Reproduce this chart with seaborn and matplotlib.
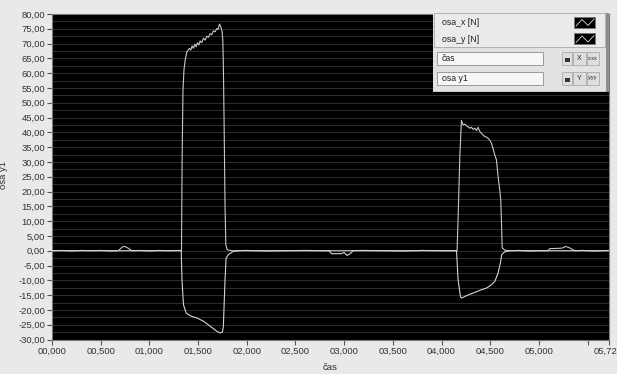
import matplotlib
matplotlib.use('Agg')
import matplotlib.pyplot as plt
from matplotlib.patches import Rectangle
from matplotlib.transforms import ScaledTranslation
import seaborn as sns
import pandas as pd

# values (time [s], force [N])
t_x = [0.00, 0.10, 0.20, 0.30, 0.40, 0.50, 0.60, 0.68, 0.72, 0.745, 0.78, 0.82,
       0.90, 1.00, 1.10, 1.20, 1.30, 1.330, 1.336, 1.345, 1.355, 1.367, 1.385,
       1.411, 1.425, 1.439, 1.452, 1.467, 1.480, 1.493, 1.508, 1.521, 1.538,
       1.555, 1.572, 1.590, 1.606, 1.624, 1.641, 1.657, 1.675, 1.692, 1.706,
       1.719, 1.733, 1.747, 1.754, 1.760, 1.767, 1.777, 1.785, 1.800, 1.850,
       2.00, 2.20, 2.40, 2.60, 2.80, 3.00, 3.20, 3.40, 3.60, 3.80, 4.00, 4.150,
       4.160, 4.170, 4.188, 4.200, 4.205, 4.222, 4.239, 4.256, 4.273, 4.290,
       4.308, 4.324, 4.342, 4.359, 4.375, 4.393, 4.410, 4.427, 4.444, 4.462,
       4.478, 4.495, 4.513, 4.529, 4.547, 4.564, 4.581, 4.598, 4.608, 4.615,
       4.623, 4.650, 4.700, 4.80, 4.90, 5.00, 5.093, 5.110, 5.200, 5.240,
       5.275, 5.320, 5.367, 5.45, 5.55, 5.65, 5.72]
osa_x = [0.0, 0.1, -0.1, 0.1, 0.0, 0.1, -0.1, 0.0, 1.2, 1.5, 0.9, 0.0,
         0.1, -0.1, 0.1, 0.0, 0.1, 0.0, 30.0, 54.0, 61.0, 64.4, 67.2,
         68.4, 67.8, 69.2, 68.4, 69.8, 68.9, 70.3, 69.5, 70.9, 70.3,
         71.8, 71.2, 72.5, 72.1, 73.4, 73.0, 74.3, 74.0, 75.1, 74.8,
         76.6, 75.7, 74.0, 71.2, 62.2, 44.2, 15.0, 2.0, 0.3, 0.0,
         0.1, -0.1, 0.0, 0.1, 0.0, 0.0, 0.1, 0.0, -0.1, 0.1, 0.0, 0.0,
         0.0, 10.5, 31.8, 41.0, 44.0, 42.5, 42.8, 42.2, 41.9, 41.4,
         41.7, 41.0, 41.4, 40.6, 41.7, 40.3, 39.7, 39.1, 38.6, 38.4,
         38.0, 37.4, 36.3, 34.6, 32.4, 30.7, 25.1, 20.6, 17.2, 10.5,
         1.0, 0.2, 0.0, 0.1, -0.1, 0.0, 0.0, 0.7, 0.8, 0.9,
         1.45, 0.9, 0.0, 0.1, -0.1, 0.0, 0.1]

t_y = [0.00, 0.20, 0.40, 0.60, 0.80, 1.00, 1.20, 1.300, 1.327, 1.335, 1.350,
       1.377, 1.401, 1.436, 1.487, 1.555, 1.624, 1.692, 1.726, 1.750, 1.760,
       1.767, 1.777, 1.788, 1.811, 1.863, 1.930, 2.20, 2.50, 2.80, 2.847,
       2.870, 2.970, 3.000, 3.030, 3.060, 3.093, 3.40, 3.70, 4.00, 4.154,
       4.170, 4.194, 4.205, 4.256, 4.324, 4.393, 4.462, 4.513, 4.547, 4.581,
       4.605, 4.619, 4.649, 4.700, 5.00, 5.30, 5.50, 5.72]
osa_y = [0.0, 0.0, 0.0, 0.0, 0.0, 0.0, 0.0, 0.0, 0.0, -10.0, -18.2,
         -21.0, -21.6, -22.2, -22.7, -23.8, -25.5, -27.2, -27.8, -27.5, -25.5,
         -18.8, -9.8, -2.5, -1.3, -0.2, 0.0, 0.0, 0.0, 0.0, 0.0,
         -1.0, -1.0, -0.6, -1.6, -1.0, 0.0, 0.0, 0.0, 0.0, 0.0,
         -9.8, -15.4, -16.0, -15.2, -14.3, -13.4, -12.6, -11.5, -10.4, -7.5,
         -4.1, -1.3, -0.4, 0.0, 0.0, 0.0, 0.0, 0.0]

y_ticks = [80, 75, 70, 65, 60, 55, 50, 45, 40, 35, 30, 25, 20, 15, 10, 5, 0,
           -5, -10, -15, -20, -25, -30]
x_ticks = [0.0, 0.5, 1.0, 1.5, 2.0, 2.5, 3.0, 3.5, 4.0, 4.5, 5.0, 5.5, 5.72]
x_labels = ['00,000', '00,500', '01,000', '01,500', '02,000', '02,500',
            '03,000', '03,500', '04,000', '04,500', '05,000', '', '05,72']
legend_names = ['osa_x [N]', 'osa_y [N]']
scale_names = ['čas', 'osa y1']

W, H = 617, 374
sns.set_style('ticks')
plt.rcParams['font.family'] = ['Liberation Sans', 'DejaVu Sans']

fig = plt.figure(figsize=(W / 100, H / 100), dpi=100, facecolor='#e9e9e9')


def box(x0, y0, x1, y1):
    return [x0 / W, 1 - y1 / H, (x1 - x0) / W, (y1 - y0) / H]


ax = fig.add_axes(box(52, 14, 609, 339.5))
ax.set_facecolor('black')

df_x = pd.DataFrame({'t': t_x, 'v': osa_x})
df_y = pd.DataFrame({'t': t_y, 'v': osa_y})
sns.lineplot(data=df_x, x='t', y='v', ax=ax, color='#c8c8c8', lw=0.8,
             estimator=None, sort=False, zorder=3)
sns.lineplot(data=df_y, x='t', y='v', ax=ax, color='#d4d4d4', lw=0.8,
             estimator=None, sort=False, zorder=3)

ax.set_xlim(0, 5.72)
ax.set_ylim(-30, 80)
ax.set_yticks(y_ticks)
ax.set_yticklabels([f'{v:.2f}'.replace('.', ',') for v in y_ticks])
ax.set_yticks([v + 2.5 for v in y_ticks[1:]], minor=True)
ax.set_xticks(x_ticks)
ax.set_xticklabels(x_labels)
ax.yaxis.grid(True, which='both', color='#2e2e2e', lw=0.7)
ax.xaxis.grid(False)
ax.tick_params(which='major', direction='out', length=3.5, width=0.8,
               color='#555555', labelsize=6.8, labelcolor='#333333', pad=1.5)
ax.tick_params(which='minor', length=0)
for s in ax.spines.values():
    s.set_color('#7a7a7a')
    s.set_linewidth(0.8)

# last label sits against the right edge of the window
last = ax.get_xticklabels()[-1]
last.set_transform(last.get_transform() + ScaledTranslation(-3 / 100, 0, fig.dpi_scale_trans))

ax.set_xlabel('čas', fontsize=6.8, color='#333333')
ax.set_ylabel('osa y1', fontsize=6.8, color='#333333')
ax.xaxis.set_label_coords(0.5, -0.072)
ax.yaxis.set_label_coords(-0.079, 0.505)

# legend / scale panel in the top right corner
pax = fig.add_axes(box(433, 13, 609, 92))
pax.set_xlim(433, 609)
pax.set_ylim(92, 13)
pax.axis('off')
pax.add_patch(Rectangle((433, 13), 176, 79, facecolor='#e2e2e2', edgecolor='none'))
pax.add_patch(Rectangle((434, 13.5), 171, 33.5, facecolor='#ebebeb',
                        edgecolor='#a8a8a8', lw=0.6))
pax.plot([606.5, 606.5], [13, 92], color='#8a8a8a', lw=2)
pax.plot([433, 609], [91.5, 91.5], color='#555555', lw=1)

for i, name in enumerate(legend_names):
    yc = 22.5 + i * 16.5
    pax.text(442, yc, name, fontsize=6.3, color='#222222', va='center', ha='left')
    pax.add_patch(Rectangle((574, yc - 5.5), 21, 11, facecolor='black', edgecolor='#777777', lw=0.5))
    pax.plot([576, 582, 588, 594], [yc + 3.5, yc - 3, yc + 3, yc - 3.5], color='#dddddd', lw=0.6)

fmt = [('X', 'x.xx'), ('Y', 'y.yy')]
for i, name in enumerate(scale_names):
    y0 = 52 + i * 20
    pax.add_patch(Rectangle((437, y0), 106, 13, facecolor='#f6f6f6', edgecolor='#8c8c8c', lw=0.6))
    pax.text(442, y0 + 6.5, name, fontsize=6.3, color='#222222', va='center', ha='left')
    pax.add_patch(Rectangle((562, y0), 10, 13, facecolor='#dedede', edgecolor='#a0a0a0', lw=0.5))
    pax.add_patch(Rectangle((564.5, y0 + 5.5), 5, 4.5, facecolor='#333333', edgecolor='none'))
    pax.add_patch(Rectangle((573, y0), 13, 13, facecolor='#dedede', edgecolor='#a0a0a0', lw=0.5))
    pax.text(579.5, y0 + 6.5, fmt[i][0], fontsize=5, color='#222222', va='center', ha='center')
    pax.add_patch(Rectangle((587, y0), 12, 13, facecolor='#dedede', edgecolor='#a0a0a0', lw=0.5))
    pax.text(593, y0 + 6, fmt[i][1], fontsize=4, color='#222222', va='center', ha='center')

fig.savefig('out.png', dpi=100, facecolor=fig.get_facecolor())
